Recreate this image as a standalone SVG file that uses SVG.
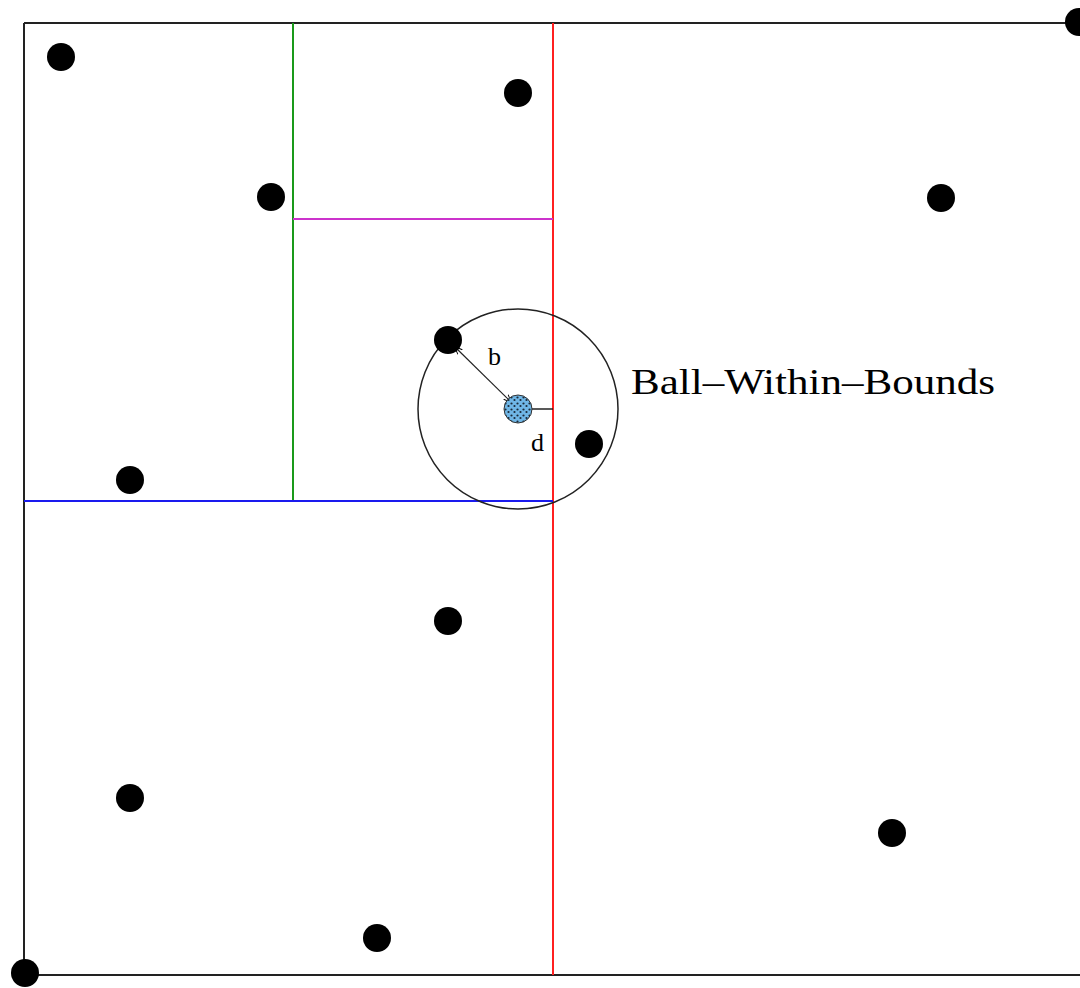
<svg xmlns="http://www.w3.org/2000/svg" width="1080" height="988" viewBox="0 0 1080 988">
<style>
.pt{fill:#000}
.ln{fill:none;stroke-width:2}
.lbl{font-family:"Liberation Serif",serif;fill:#000}
</style>
<defs>
<pattern id="spk" width="6" height="6" patternUnits="userSpaceOnUse">
<rect width="6" height="6" fill="#6fb6e6"/>
<circle cx="1.5" cy="1.5" r="1.1" fill="#1a2a3a"/>
<circle cx="4.5" cy="4" r="1.1" fill="#1a2a3a"/>
</pattern>
<marker id="ah" viewBox="0 0 10 10" refX="9" refY="5" markerWidth="8" markerHeight="8" orient="auto-start-reverse" markerUnits="userSpaceOnUse">
<path d="M0,1 L10,5 L0,9" fill="none" stroke="#000" stroke-width="1.2"/>
</marker>
</defs>
<rect width="1080" height="988" fill="#fff"/>
<g id="bounds">
<line class="ln" x1="24" y1="23" x2="1080" y2="23" stroke="#222"/>
<line class="ln" x1="24" y1="23" x2="24" y2="975" stroke="#222"/>
<line class="ln" x1="24" y1="975" x2="1080" y2="975" stroke="#222"/>
<line class="ln" x1="553" y1="23" x2="553" y2="975" stroke="#ff2020"/>
<line class="ln" x1="293" y1="23" x2="293" y2="501" stroke="#1a9a1a"/>
<line class="ln" x1="293" y1="219" x2="553" y2="219" stroke="#cc33cc"/>
<line class="ln" x1="24" y1="501" x2="553" y2="501" stroke="#1a1aee"/>
</g>
<g id="ball">
<circle cx="518" cy="409" r="100" fill="none" stroke="#222" stroke-width="1.5"/>
</g>
<g id="connectors">
<line x1="455" y1="347" x2="511" y2="402" stroke="#222" stroke-width="1.2" marker-start="url(#ah)" marker-end="url(#ah)"/>
<line x1="532" y1="409" x2="553" y2="409" stroke="#222" stroke-width="1.5"/>
</g>
<g id="points">
<circle class="pt" cx="61" cy="57" r="14"/>
<circle class="pt" cx="518" cy="93" r="14"/>
<circle class="pt" cx="271" cy="197" r="14"/>
<circle class="pt" cx="941" cy="198" r="14"/>
<circle class="pt" cx="448" cy="340" r="14"/>
<circle class="pt" cx="589" cy="444" r="14"/>
<circle class="pt" cx="130" cy="480" r="14"/>
<circle class="pt" cx="448" cy="621" r="14"/>
<circle class="pt" cx="130" cy="798" r="14"/>
<circle class="pt" cx="892" cy="833" r="14"/>
<circle class="pt" cx="377" cy="938" r="14"/>
<circle class="pt" cx="25" cy="973" r="14"/>
<circle class="pt" cx="1079" cy="22" r="14"/>
</g>
<g id="query">
<circle cx="518" cy="409" r="14" fill="url(#spk)" stroke="#333" stroke-width="1"/>
</g>
<g id="labels">
<text class="lbl" x="488" y="365" font-size="26">b</text>
<text class="lbl" x="531" y="451" font-size="26">d</text>
<text class="lbl" x="631" y="394" font-size="35" textLength="364" lengthAdjust="spacingAndGlyphs">Ball–Within–Bounds</text>
</g>
</svg>
